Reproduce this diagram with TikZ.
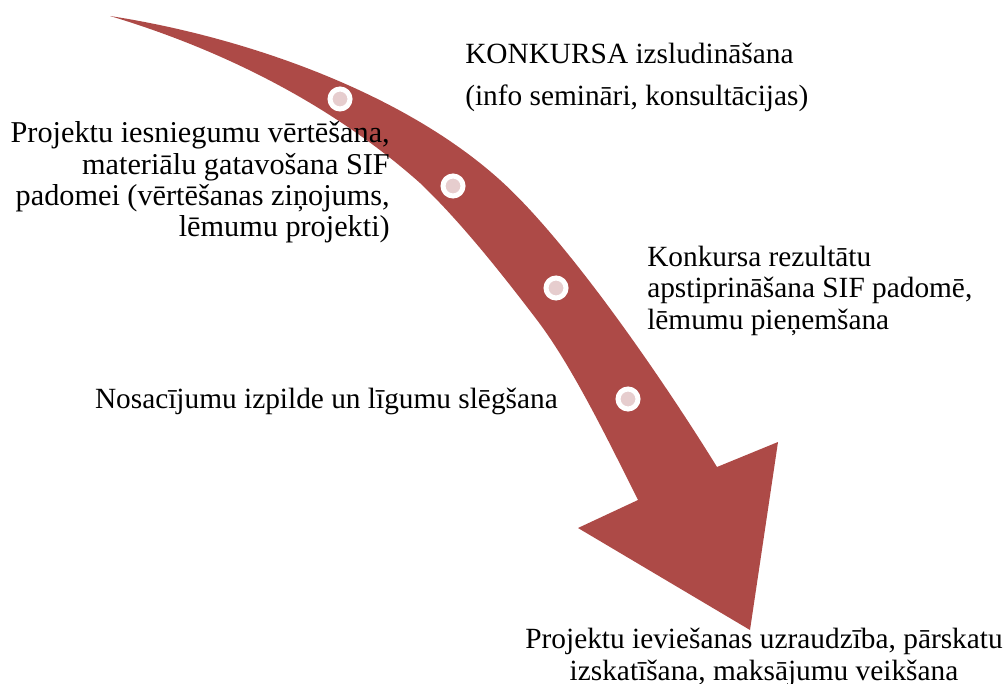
\documentclass[tikz,border=0pt]{standalone}
\usepackage{fontspec}
\setmainfont{Liberation Serif}
\usepackage{xcolor}
\definecolor{arrowred}{RGB}{173,74,71}
\definecolor{dotpink}{RGB}{230,205,206}

\begin{document}
\begin{tikzpicture}[x=0.75pt, y=-0.75pt,
    lbl/.style={inner sep=0pt, font=\fontsize{22}{23.5}\selectfont},
    dot/.style={circle, fill=dotpink, draw=white, line width=3.75pt,
      minimum size=15pt, inner sep=0pt}]
    \useasboundingbox (0,0) rectangle (1006,684);

    % curved arrow: outer edge, head, inner edge back to the tail
    \fill[arrowred]
    (110,16) .. controls (240,36) and (400,90) .. (500,180)
    .. controls (570,243) and (667,386) .. (717,467)
    -- (778,442) -- (750,630) -- (578,528) -- (638,500)
    .. controls (608,440) and (572,366) .. (537,320)
    .. controls (502,274) and (460,221) .. (420,183)
    .. controls (330,103) and (220,49) .. (110,16) -- cycle;

    \node[dot] (d1) at (340,99) {};
    \node[dot] (d2) at (453,186) {};
    \node[dot] (d3) at (556,288) {};
    \node[dot] (d4) at (628,399) {};

    % multi-line labels sit on the baseline of their last line
    \node[lbl, anchor=base west, align=left] (konkurss) at (465,106)
    {KONKURSA izsludināšana\\[8pt](info semināri, konsultācijas)};
    \node[lbl, anchor=base east, align=right, font=\fontsize{22.7}{23.5}\selectfont]
    (vertesana) at (390,237)
    {Projektu iesniegumu vērtēšana,\\materiālu gatavošana SIF\\padomei (vērtēšanas ziņojums,\\lēmumu projekti)};
    \node[lbl, anchor=base west, align=left] (rezultati) at (647,329)
    {Konkursa rezultātu\\apstiprināšana SIF padomē,\\lēmumu pieņemšana};
    \node[lbl, anchor=base east] (ligumi) at (558,408)
    {Nosacījumu izpilde un līgumu slēgšana};
    \node[lbl, anchor=base, align=center] (ieviesana) at (764,680)
    {Projektu ieviešanas uzraudzība, pārskatu\\izskatīšana, maksājumu veikšana};
  \end{tikzpicture}
\end{document}
